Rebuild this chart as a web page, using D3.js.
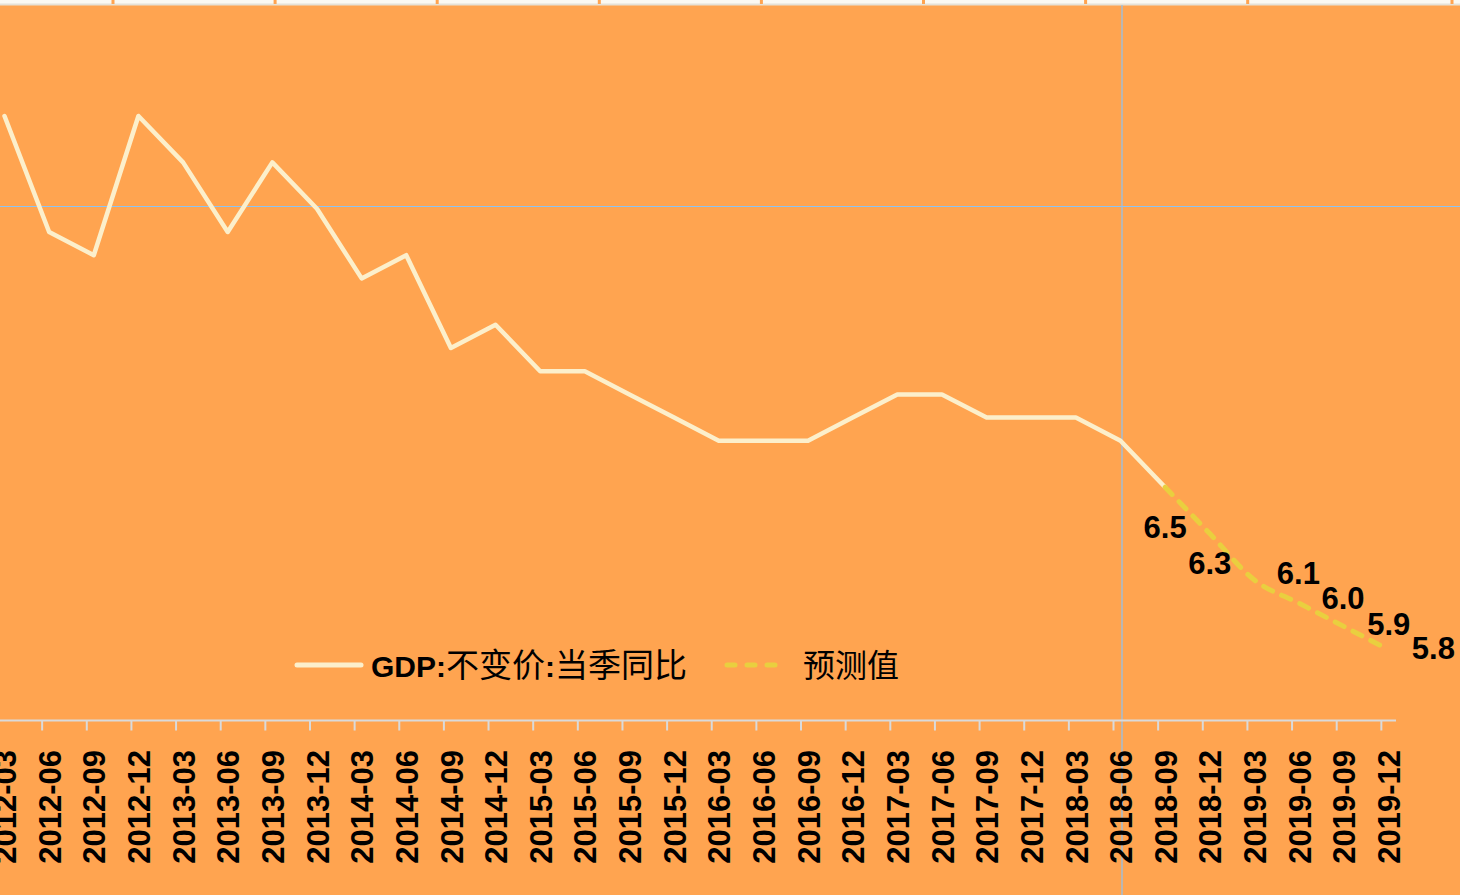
<!DOCTYPE html>
<html>
<head>
<meta charset="utf-8">
<script src="https://cdn.jsdelivr.net/npm/d3@7"></script>
<style>
    body { margin: 0; background: #FFA450; overflow: hidden; }
    svg { display: block; }
</style>
</head>
<body>
<div id="chart"></div>
<script>
// quarters on the x axis
var quarters = ["2012-03", "2012-06", "2012-09", "2012-12", "2013-03", "2013-06", "2013-09", "2013-12",
    "2014-03", "2014-06", "2014-09", "2014-12", "2015-03", "2015-06", "2015-09", "2015-12",
    "2016-03", "2016-06", "2016-09", "2016-12", "2017-03", "2017-06", "2017-09", "2017-12",
    "2018-03", "2018-06", "2018-09", "2018-12", "2019-03", "2019-06", "2019-09", "2019-12"];

// GDP:不变价:当季同比 (actual)
var gdpQuarters = quarters.slice(0, 27);
var gdpValues = [8.1, 7.6, 7.5, 8.1, 7.9, 7.6, 7.9, 7.7, 7.4, 7.5, 7.1, 7.2, 7.0, 7.0, 6.9, 6.8,
    6.7, 6.7, 6.7, 6.8, 6.9, 6.9, 6.8, 6.8, 6.8, 6.7, 6.5];

// 预测值 (forecast)
var forecastQuarters = ["2018-09", "2018-12", "2019-03", "2019-06", "2019-09", "2019-12"];
var forecastValues = [6.5, 6.3, 6.1, 6.0, 5.9, 5.8];
var forecastLabels = ["6.5", "6.3", "6.1", "6.0", "5.9", "5.8"];

var seriesNames = ["GDP:不变价:当季同比", "预测值"];

// crosshair left on the chart
var crossQuarter = "2018-06";
var crossValue = 7.71;

function init() {
    var w = 1460;
    var h = 895;

    var bg = "#FFA450";
    var lineColor = "#FCEFCB";
    var dashColor = "#E9CF3F";

    var svg = d3.select("#chart")
        .append("svg")
        .attr("width", w)
        .attr("height", h);

    svg.append("rect")
        .attr("width", w)
        .attr("height", h)
        .attr("fill", bg);

    var x = d3.scalePoint()
        .domain(quarters)
        .range([4.5, 4.5 + 31 * 44.64]);

    var y = d3.scaleLinear()
        .domain([8.1, 5.8])
        .range([116, 649.6]);

    // top strip of the page above the chart
    svg.append("rect")
        .attr("x", 0).attr("y", 0)
        .attr("width", w).attr("height", 4)
        .attr("fill", "#FBF9F2");
    svg.append("rect")
        .attr("x", 0).attr("y", 3.5)
        .attr("width", w).attr("height", 2)
        .attr("fill", "#E6E1D6");
    svg.selectAll(".topmark")
        .data(d3.range(8).map(function (i) { return 113 + i * 162.1; }).concat([1452]))
        .enter()
        .append("rect")
        .attr("x", function (d) { return d - 1.5; })
        .attr("y", 0)
        .attr("width", 3)
        .attr("height", 4)
        .attr("fill", bg);

    // crosshair
    svg.append("line")
        .attr("x1", 0).attr("x2", w)
        .attr("y1", y(crossValue)).attr("y2", y(crossValue))
        .attr("stroke", "#8CC4F4")
        .attr("stroke-width", 1.2);
    svg.append("line")
        .attr("x1", x(crossQuarter) + 1.5).attr("x2", x(crossQuarter) + 1.5)
        .attr("y1", 5).attr("y2", h)
        .attr("stroke", "#8CC4F4")
        .attr("stroke-width", 1.2);

    // x axis
    var axisY = 720.5;
    svg.append("line")
        .attr("x1", 0).attr("x2", 1396)
        .attr("y1", axisY).attr("y2", axisY)
        .attr("stroke", "#DADADA")
        .attr("stroke-width", 2);

    svg.selectAll(".tick")
        .data(quarters)
        .enter()
        .append("line")
        .attr("x1", function (d) { return x(d) - 7; })
        .attr("x2", function (d) { return x(d) - 7; })
        .attr("y1", axisY)
        .attr("y2", axisY + 10)
        .attr("stroke", "#DADADA")
        .attr("stroke-width", 2);

    svg.selectAll(".xlabel")
        .data(quarters)
        .enter()
        .append("text")
        .text(function (d) { return d; })
        .attr("transform", function (d) { return "translate(" + (x(d) + 0.5) + ",750) rotate(-90)"; })
        .attr("dy", "0.36em")
        .attr("text-anchor", "end")
        .attr("font-family", "Liberation Sans, Arial, sans-serif")
        .attr("font-weight", "bold")
        .attr("font-size", "31px")
        .attr("fill", "#000");

    // actual line
    var line = d3.line()
        .x(function (d, i) { return x(gdpQuarters[i]); })
        .y(function (d) { return y(d); });

    svg.append("path")
        .datum(gdpValues)
        .attr("d", line)
        .attr("fill", "none")
        .attr("stroke", lineColor)
        .attr("stroke-width", 4.5)
        .attr("stroke-linejoin", "round")
        .attr("stroke-linecap", "round");

    // forecast line
    var fline = d3.line()
        .curve(d3.curveMonotoneX)
        .x(function (d, i) { return x(forecastQuarters[i]); })
        .y(function (d) { return y(d); });

    svg.append("path")
        .datum(forecastValues)
        .attr("d", fline)
        .attr("fill", "none")
        .attr("stroke", dashColor)
        .attr("stroke-width", 5)
        .attr("stroke-dasharray", "10,10")
        .attr("stroke-linecap", "round");

    // value labels, offset from their points as in the original
    var labelShift = [[0, 40], [0, 29], [44, -7], [44, -5], [45, -3], [45, -2]];

    svg.selectAll(".vlabel")
        .data(forecastValues)
        .enter()
        .append("text")
        .text(function (d, i) { return forecastLabels[i]; })
        .attr("x", function (d, i) { return x(forecastQuarters[i]) + labelShift[i][0]; })
        .attr("y", function (d, i) { return y(d) + labelShift[i][1]; })
        .attr("dy", "0.36em")
        .attr("text-anchor", "middle")
        .attr("font-family", "Liberation Sans, Arial, sans-serif")
        .attr("font-weight", "bold")
        .attr("font-size", "31px")
        .attr("fill", "#000");

    // legend
    var legY = 665;
    svg.append("line")
        .attr("x1", 297).attr("x2", 361)
        .attr("y1", legY).attr("y2", legY)
        .attr("stroke", lineColor)
        .attr("stroke-width", 5)
        .attr("stroke-linecap", "round");

    var t1 = svg.append("text")
        .attr("x", 371)
        .attr("y", legY + 12)
        .attr("font-family", "Liberation Sans, Arial, Noto Sans CJK SC, sans-serif")
        .attr("font-size", "30px")
        .attr("fill", "#000");
    var parts = seriesNames[0].split(":");
    parts.forEach(function (p, i) {
        if (i > 0) t1.append("tspan").attr("font-weight", "bold").text(":");
        t1.append("tspan")
            .attr("font-weight", i === 0 ? "bold" : "normal")
            .attr("font-size", i === 0 ? "30px" : "33px")
            .attr("font-family", i === 0 ? "Liberation Sans, Arial, sans-serif" : "Noto Sans CJK SC, sans-serif")
            .text(p);
    });

    svg.append("line")
        .attr("x1", 727).attr("x2", 786)
        .attr("y1", legY).attr("y2", legY)
        .attr("stroke", dashColor)
        .attr("stroke-width", 5)
        .attr("stroke-dasharray", "8,12")
        .attr("stroke-linecap", "round");

    svg.append("text")
        .text(seriesNames[1])
        .attr("x", 803)
        .attr("y", legY + 12)
        .attr("font-family", "Noto Sans CJK SC, sans-serif")
        .attr("font-size", "32px")
        .attr("fill", "#000");
}

window.onload = init;
</script>
</body>
</html>
